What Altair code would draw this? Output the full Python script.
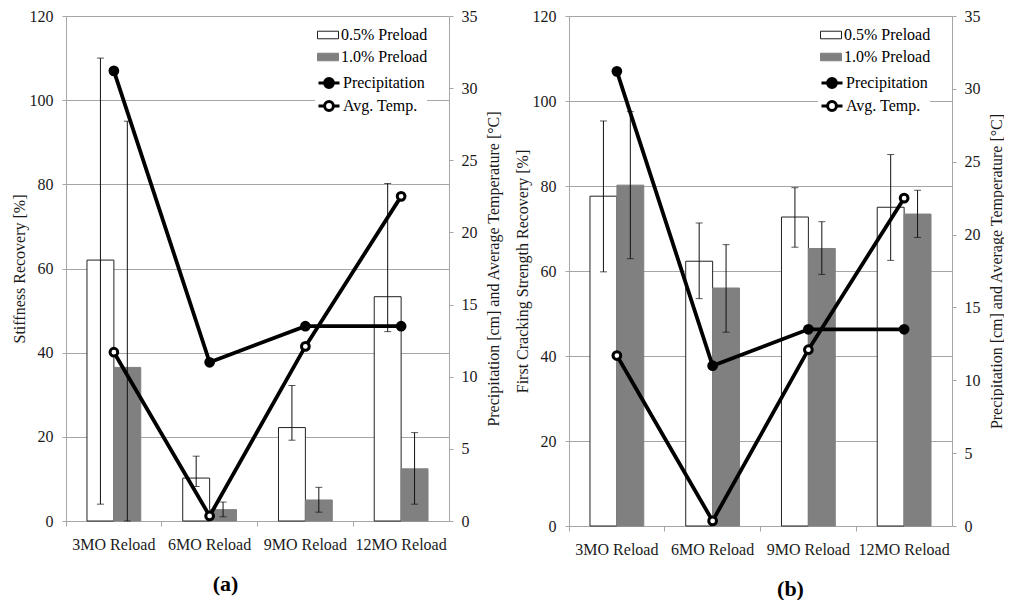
import altair as alt
import pandas as pd

categories = ["3MO Reload", "6MO Reload", "9MO Reload", "12MO Reload"]
bar_series = ["0.5% Preload", "1.0% Preload"]
line_series = ["Precipitation", "Avg. Temp."]

# Panel (a): Stiffness recovery [%]
a_p05 = [62.0, 10.2, 22.2, 53.3]
a_p05_lo = [4.0, 8.2, 19.2, 45.0]
a_p05_hi = [110.0, 15.4, 32.2, 80.2]
a_p10 = [36.5, 2.7, 5.0, 12.4]
a_p10_lo = [0.0, 1.0, 2.1, 4.0]
a_p10_hi = [95.0, 4.5, 8.0, 21.0]

# Panel (b): First cracking strength recovery [%]
b_p05 = [77.6, 62.3, 72.7, 75.0]
b_p05_lo = [59.8, 53.5, 65.6, 62.5]
b_p05_hi = [95.3, 71.3, 79.6, 87.4]
b_p10 = [80.2, 56.0, 65.3, 73.4]
b_p10_lo = [62.9, 45.6, 59.2, 67.9]
b_p10_hi = [97.5, 66.2, 71.6, 79.0]

# Climate (right axis)
precip = [31.2, 11.0, 13.5, 13.5]
temp = [11.7, 0.35, 12.1, 22.5]

left_ticks = [0, 20, 40, 60, 80, 100, 120]
right_ticks = [0, 5, 10, 15, 20, 25, 30, 35]

FONT = "Liberation Serif"
GRID = "#a6a6a6"
TXT = "#1a1a1a"

RECT_PATH = "M-1,-0.36H1V0.36H-1Z"
LINE_CIRCLE_PATH = ("M-1,0H-0.42M0.42,0H1M-0.42,0A0.42,0.42 0 1,1 0.42,0"
                    "A0.42,0.42 0 1,1 -0.42,0Z")


def legend(y, shape, sw, rp, **kw):
    return alt.Legend(title=None, orient="none", legendX=249, legendY=y,
                      symbolType=shape, symbolSize=441, symbolStrokeWidth=sw,
                      labelFont=FONT, labelFontSize=16, labelColor="black",
                      labelOffset=2, rowPadding=rp, fillColor="white",
                      padding=2, **kw)


def panel(p05, lo05, hi05, p10, lo10, hi10, left_title, h, label, dx):
    bars = pd.DataFrame({
        "category": categories * 2,
        "series": [bar_series[0]] * 4 + [bar_series[1]] * 4,
        "value": p05 + p10,
        "lo": lo05 + lo10,
        "hi": hi05 + hi10,
    })
    lines = pd.DataFrame({
        "category": categories * 2,
        "series": [line_series[0]] * 4 + [line_series[1]] * 4,
        "value": precip + temp,
    })

    x = alt.X("category:N", sort=categories,
              scale=alt.Scale(paddingInner=0, paddingOuter=0),
              axis=alt.Axis(title=None, labelAngle=0, bandPosition=0,
                            labelFont=FONT, labelFontSize=16, labelColor=TXT,
                            labelPadding=10, tickSize=5, tickColor=GRID,
                            domainColor=GRID))
    xoff = alt.XOffset("series:N", sort=bar_series,
                       scale=alt.Scale(paddingInner=0, paddingOuter=0.78))
    yscale = alt.Scale(domain=[0, 120], nice=False)
    laxis = alt.Axis(title=left_title, values=left_ticks, grid=True,
                     gridColor=GRID, domainColor=GRID, tickColor=GRID,
                     tickSize=4, labelPadding=9, labelFont=FONT,
                     labelFontSize=16, labelColor=TXT, titleFont=FONT,
                     titleFontSize=16, titleFontWeight="normal",
                     titleColor=TXT, titlePadding=2)

    base_l = alt.Chart(bars)
    bar_layer = base_l.mark_bar(strokeWidth=1).encode(
        x=x, xOffset=xoff,
        y=alt.Y("value:Q", scale=yscale, axis=laxis),
        fill=alt.Fill("series:N", sort=bar_series,
                      scale=alt.Scale(domain=bar_series, range=["white", "#808080"]),
                      legend=legend(6, RECT_PATH, 1, 3)),
        stroke=alt.Stroke("series:N", sort=bar_series,
                          scale=alt.Scale(domain=bar_series, range=["#222222", "#808080"]),
                          legend=legend(6, RECT_PATH, 1, 3)),
    )
    err = base_l.mark_rule(color="#111111", strokeWidth=1).encode(
        x=x, xOffset=xoff,
        y=alt.Y("lo:Q", scale=yscale, axis=laxis), y2="hi:Q")
    cap_lo = base_l.mark_tick(color="#111111", thickness=1, size=7).encode(
        x=x, xOffset=xoff, y=alt.Y("lo:Q", scale=yscale, axis=laxis))
    cap_hi = base_l.mark_tick(color="#111111", thickness=1, size=7).encode(
        x=x, xOffset=xoff, y=alt.Y("hi:Q", scale=yscale, axis=laxis))
    left = alt.layer(bar_layer, err, cap_lo, cap_hi)

    rscale = alt.Scale(domain=[0, 35], nice=False)
    raxis = alt.Axis(orient="right",
                     title="Precipitation [cm] and Average Temperature [°C]",
                     values=right_ticks, grid=False, domainColor=GRID,
                     tickColor=GRID, tickSize=4, labelPadding=8,
                     labelFont=FONT, labelFontSize=16, labelColor=TXT,
                     titleFont=FONT, titleFontSize=16,
                     titleFontWeight="normal", titleColor=TXT,
                     titleAngle=270, titleBaseline="top", titlePadding=8)
    base_r = alt.Chart(lines)
    line_layer = base_r.mark_line(color="black", strokeWidth=3.8).encode(
        x=x,
        y=alt.Y("value:Q", scale=rscale, axis=raxis),
        detail="series:N",
    )
    pts = base_r.mark_point(filled=True, stroke="black", strokeWidth=3,
                            size=60, opacity=1, shape="circle").encode(
        x=x,
        y=alt.Y("value:Q", scale=rscale, axis=raxis),
        fill=alt.Fill("series:N", sort=line_series,
                      scale=alt.Scale(domain=line_series, range=["black", "white"]),
                      legend=legend(53, LINE_CIRCLE_PATH, 3, 0,
                                    symbolStrokeColor="black")),
    )
    right = alt.layer(line_layer, pts)

    return alt.layer(left, right).resolve_scale(
        y="independent", fill="independent", stroke="independent"
    ).properties(
        width=383, height=h,
        title=alt.TitleParams(text=label, orient="bottom", fontSize=22,
                              fontWeight="bold", font=FONT, color="black",
                              dx=dx, offset=22),
    )


pa = panel(a_p05, a_p05_lo, a_p05_hi, a_p10, a_p10_lo, a_p10_hi,
           "Stiffness Recovery [%]", 505, "(a)", -32)
pb = panel(b_p05, b_p05_lo, b_p05_hi, b_p10, b_p10_lo, b_p10_hi,
           "First Cracking Strength Recovery [%]", 510, "(b)", 30)

chart = alt.hconcat(pa, pb, spacing=12).properties(
    padding={"left": 3, "top": 0, "right": 0, "bottom": 0}
).configure(font=FONT).configure_view(stroke=None)

chart.save("out.html", embed_options={"renderer": "svg", "actions": False})
